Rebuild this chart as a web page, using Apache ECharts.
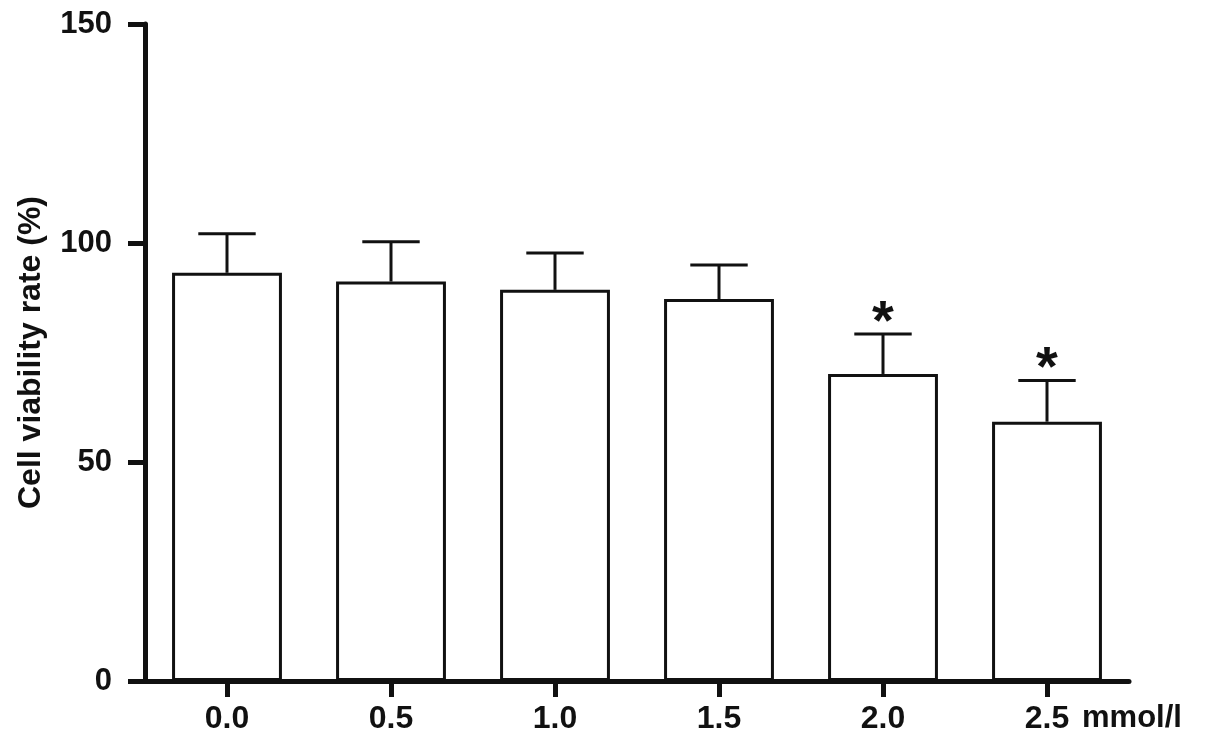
<!DOCTYPE html>
<html>
<head>
<meta charset="utf-8">
<script src="https://cdn.jsdelivr.net/npm/echarts@6/dist/echarts.min.js"></script>
<style>
  html, body { margin: 0; padding: 0; background: #fff; }
  #main { width: 1205px; height: 748px; }
</style>
</head>
<body>
<div id="main"></div>
<script>
// concentrations (mmol/l)
const categories = ['0.0', '0.5', '1.0', '1.5', '2.0', '2.5']
// mean cell viability (%)
const viability = [93.2, 91.2, 89.3, 87.2, 70.1, 59.2]
// upper error (SD)
const errors = [8.9, 9.1, 8.4, 7.8, 9.1, 9.4]
// significance marks
const marks = ['', '', '', '', '*', '*']
const yTicks = [0, 50, 100, 150]

const font = "'Liberation Sans', Arial, Helvetica, sans-serif"
const chart = echarts.init(document.getElementById('main'))

const errData = categories.map((c, i) => [i, viability[i], errors[i]])

chart.setOption({
  animation: false,
  backgroundColor: '#fff',
  grid: { left: 145, right: 76, top: 24, bottom: 67 },
  xAxis: {
    type: 'category',
    data: categories,
    name: 'mmol/l',
    nameLocation: 'end',
    nameGap: -47,
    nameTextStyle: {
      color: '#111', fontSize: 31, fontWeight: 'bold', fontFamily: font,
      align: 'left', verticalAlign: 'top', padding: [22, 0, 0, 0]
    },
    axisLine: { lineStyle: { color: '#111', width: 5 } },
    axisTick: { show: true, alignWithLabel: true, length: 16, lineStyle: { color: '#111', width: 5 } },
    axisLabel: { color: '#111', fontSize: 32, fontWeight: 'bold', fontFamily: font, margin: 22 },
    splitLine: { show: false }
  },
  yAxis: {
    type: 'value',
    min: yTicks[0],
    max: yTicks[yTicks.length - 1],
    interval: 50,
    name: 'Cell viability rate (%)',
    nameLocation: 'middle',
    nameGap: 98,
    nameTextStyle: { color: '#111', fontSize: 32, fontWeight: 'bold', fontFamily: font },
    axisLine: { show: true, lineStyle: { color: '#111', width: 5 } },
    axisTick: { show: true, length: 17, lineStyle: { color: '#111', width: 5 } },
    axisLabel: { color: '#111', fontSize: 31, fontWeight: 'bold', fontFamily: font, margin: 33 },
    splitLine: { show: false }
  },
  series: [
    {
      type: 'bar',
      data: viability,
      barWidth: '67%',
      itemStyle: { color: '#fff', borderColor: '#111', borderWidth: 3 },
      z: 2
    },
    {
      type: 'custom',
      data: errData,
      z: 3,
      renderItem: (params, api) => {
        const i = api.value(0)
        const mean = api.value(1)
        const err = api.value(2)
        const mark = marks[i]
        const base = api.coord([i, mean])
        const top = api.coord([i, mean + err])
        const half = api.size([1, 0])[0] * 0.175
        const style = { stroke: '#111', lineWidth: 3 }
        const children = [
          { type: 'line', shape: { x1: base[0], y1: base[1], x2: top[0], y2: top[1] }, style },
          { type: 'line', shape: { x1: top[0] - half, y1: top[1], x2: top[0] + half, y2: top[1] }, style }
        ]
        if (mark) {
          children.push({
            type: 'text',
            style: {
              text: mark, x: top[0], y: top[1] - 39,
              fill: '#111', fontSize: 56, fontWeight: 'bold', fontFamily: font,
              align: 'center', verticalAlign: 'top'
            }
          })
        }
        return { type: 'group', children }
      }
    }
  ]
})

window.addEventListener('resize', () => chart.resize())
</script>
</body>
</html>
